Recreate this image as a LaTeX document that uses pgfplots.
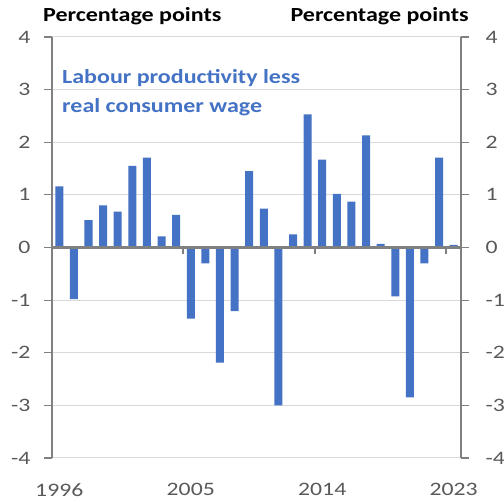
\documentclass[border=0pt]{standalone}
\usepackage{fontspec}
\setmainfont{Carlito}[FakeStretch=1.25]
\newfontfamily\headfont{Carlito}[FakeStretch=1.2]
\usepackage{pgfplots}
\pgfplotsset{compat=1.18}
\definecolor{barblue}{HTML}{4472C4}
\definecolor{gridgray}{HTML}{D9D9D9}
\definecolor{axisgray}{HTML}{808080}
\definecolor{labgray}{HTML}{595959}

\pgfplotstableread{
x val
0 1.16
1 -0.98
2 0.52
3 0.80
4 0.68
5 1.55
6 1.71
7 0.21
8 0.62
9 -1.35
10 -0.30
11 -2.19
12 -1.21
13 1.45
14 0.74
15 -3.00
16 0.25
17 2.53
18 1.67
19 1.02
20 0.87
21 2.13
22 0.07
23 -0.93
24 -2.85
25 -0.30
26 1.71
27 0.05
}\gaptable

\begin{document}
\begin{tikzpicture}
\pgfplotsset{base/.style={scale only axis, width=409pt, height=421pt,
  xmin=-0.5, xmax=27.5, ymin=-4, ymax=4, ytick={-4,...,4},
  tick align=outside, major tick length=8pt,
  tick style={axisgray, line width=1.2pt},
  ticklabel style={font=\fontsize{19}{22}\selectfont, text=labgray},
  /pgf/number format/assume math mode=true}}

\begin{axis}[base, ybar, bar width=0.55,
  axis line style={draw=none},
  ytick pos=left,
  yticklabel style={xshift=-10pt},
  xtick={0,9,18,27}, xticklabels={1996,2005,2014,2023},
  x tick style={draw=none},
  xticklabel style={yshift=-14pt},
  ymajorgrids, grid style={gridgray, line width=1pt}]
\addplot[fill=barblue, draw=none] table[x=x, y=val] {\gaptable};
\draw[axisgray, line width=2.2pt] (axis cs:-0.5,0) -- (axis cs:27.5,0);
\pgfplotsinvokeforeach{-0.5,8.5,17.5,26.5}{
  \draw[axisgray, line width=2pt] (axis cs:#1,0) -- ([yshift=-7pt]axis cs:#1,0);
}
\end{axis}

\begin{axis}[base, hide x axis, clip=false,
  ytick pos=right, yticklabel pos=right,
  yticklabel style={xshift=13pt},
  y axis line style={axisgray, line width=1.2pt}]
\node[anchor=base west, inner sep=0pt, font=\headfont\fontsize{20}{24}\selectfont\bfseries] at ([xshift=-9pt,yshift=15pt]rel axis cs:0,1) {Percentage points};
\node[anchor=base east, inner sep=0pt, font=\headfont\fontsize{20}{24}\selectfont\bfseries] at ([xshift=8pt,yshift=15pt]rel axis cs:1,1) {Percentage points};
\node[anchor=base west, inner sep=0pt, text=barblue, font=\headfont\fontsize{20}{24}\selectfont\bfseries] at ([xshift=10pt]axis cs:-0.5,3.125) {Labour productivity less};
\node[anchor=base west, inner sep=0pt, text=barblue, font=\headfont\fontsize{20}{24}\selectfont\bfseries] at ([xshift=10pt]axis cs:-0.5,2.56) {real consumer wage};
\end{axis}
\pgfresetboundingbox
\path[use as bounding box] (-52pt,-44pt) rectangle (452pt,458pt);
\end{tikzpicture}
\end{document}
